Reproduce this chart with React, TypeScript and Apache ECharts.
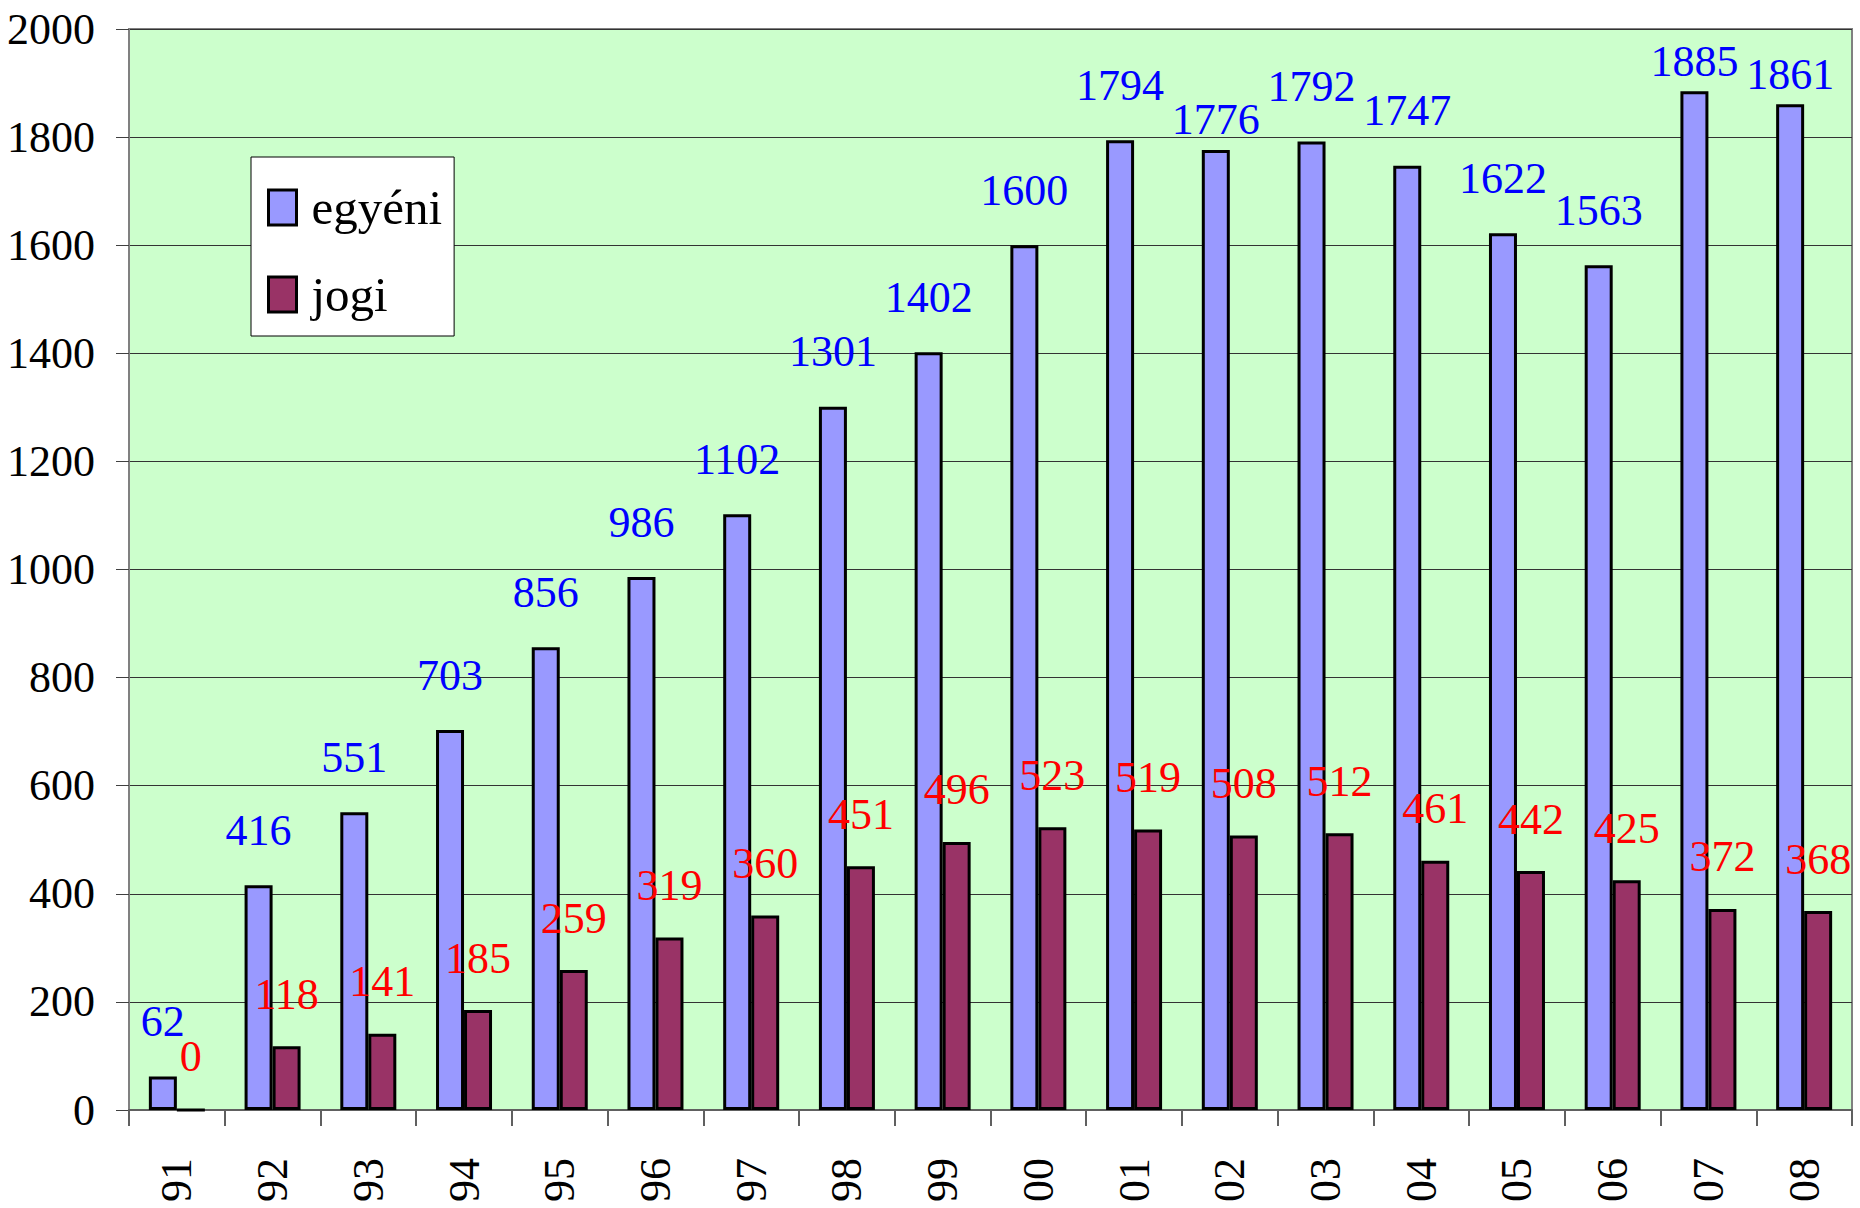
import React, { useEffect, useRef } from "react";
import * as echarts from "echarts";

const categories = ["91", "92", "93", "94", "95", "96", "97", "98", "99", "00", "01", "02", "03", "04", "05", "06", "07", "08"];
const egyeni = [62, 416, 551, 703, 856, 986, 1102, 1301, 1402, 1600, 1794, 1776, 1792, 1747, 1622, 1563, 1885, 1861];
const jogi = [0, 118, 141, 185, 259, 319, 360, 451, 496, 523, 519, 508, 512, 461, 442, 425, 372, 368];
const seriesNames = ["egyéni", "jogi"];

// label distance overrides (labels moved closer to bar in original)
const egyeniLabelNear: Record<number, number> = { 11: 9, 16: 8, 17: 8 };

const FONT = "'Times New Roman', 'Liberation Serif', serif";

export default function App() {
  const ref = useRef<HTMLDivElement>(null);
  useEffect(() => {
    if (!ref.current) return;
    const chart = echarts.init(ref.current, null, { renderer: "svg" });
    const blueData = egyeni.map((v, i) =>
      egyeniLabelNear[i] !== undefined ? { value: v, label: { distance: egyeniLabelNear[i] } } : v
    );
    chart.setOption({
      animation: false,
      backgroundColor: "#ffffff",
      grid: {
        left: 129,
        right: 8,
        top: 29,
        bottom: 98,
        outerBoundsMode: "none",
        containLabel: false,
        show: true,
        backgroundColor: "#CCFFCC",
        borderColor: "#808080",
        borderWidth: 2,
      },
      legend: {
        orient: "vertical",
        left: 251,
        top: 157,
        padding: [26, 12, 17, 16],
        itemWidth: 28,
        itemHeight: 35,
        itemGap: 38,
        icon: "rect",
        backgroundColor: "#ffffff",
        borderColor: "#000000",
        borderWidth: 1,
        borderRadius: 0,
        data: seriesNames,
        itemStyle: { borderColor: "#000", borderWidth: 3 },
        textStyle: {
          fontFamily: FONT,
          fontSize: 49,
          color: "#000",
          padding: [0, 0, 0, 10],
        },
      },
      xAxis: {
        type: "category",
        data: categories,
        axisLine: { lineStyle: { color: "#606060", width: 2 } },
        axisTick: { show: true, length: 16, lineStyle: { color: "#606060", width: 2 } },
        axisLabel: {
          rotate: 90,
          margin: 48,
          fontFamily: FONT,
          fontSize: 44,
          color: "#000",
        },
      },
      yAxis: {
        type: "value",
        min: 0,
        max: 2000,
        interval: 200,
        axisLine: { show: true, lineStyle: { color: "#808080", width: 2 } },
        axisTick: { show: true, length: 13, lineStyle: { color: "#404040", width: 1 } },
        axisLabel: {
          margin: 34,
          fontFamily: FONT,
          fontSize: 44,
          color: "#000",
          formatter: (v: number) => String(v),
        },
        splitLine: { show: true, lineStyle: { color: "#333333", width: 1 } },
      },
      series: [
        {
          name: seriesNames[0],
          type: "bar",
          data: blueData,
          barWidth: 28,
          barGap: "0%",
          itemStyle: { color: "#9999FF", borderColor: "#000", borderWidth: 3 },
          label: {
            show: true,
            position: "top",
            distance: 33,
            fontFamily: FONT,
            fontSize: 44,
            color: "#0000FF",
          },
        },
        {
          name: seriesNames[1],
          type: "bar",
          data: jogi,
          barWidth: 28,
          barGap: "0%",
          itemStyle: { color: "#993366", borderColor: "#000", borderWidth: 3 },
          label: {
            show: true,
            position: "top",
            distance: 30,
            fontFamily: FONT,
            fontSize: 44,
            color: "#FF0000",
          },
        },
      ],
    });
    return () => chart.dispose();
  }, []);
  return (
    <div
      ref={ref}
      style={{ position: "fixed", left: 0, top: 0, width: 1860, height: 1208, background: "#fff" }}
    />
  );
}
